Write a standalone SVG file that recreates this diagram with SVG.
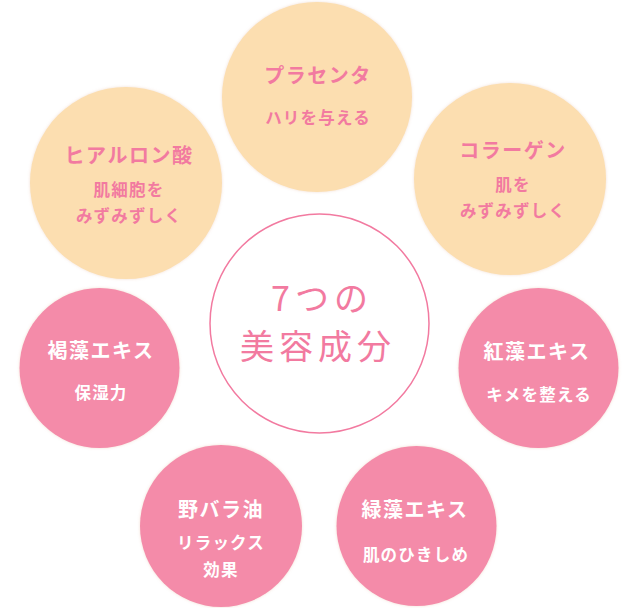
<svg xmlns="http://www.w3.org/2000/svg" width="640" height="608" viewBox="0 0 640 608">
<defs>
<filter id="soft" x="-10%" y="-10%" width="120%" height="120%">
<feGaussianBlur in="SourceAlpha" stdDeviation="1.5"/>
<feOffset dx="0" dy="0" result="b"/>
<feFlood flood-color="#d9a080" flood-opacity="0.35"/>
<feComposite in2="b" operator="in"/>
<feMerge><feMergeNode/><feMergeNode in="SourceGraphic"/></feMerge>
</filter>
</defs>
<style>
.peach{fill:#fcdeb0;filter:url(#soft)}
.pink{fill:#f48ba9;filter:url(#soft)}
text{font-family:"Noto Sans CJK JP","Noto Sans",sans-serif;text-anchor:middle}
.pt{fill:#f27aa0;font-size:20px;font-weight:bold;letter-spacing:1.5px}
.ps{fill:#f27aa0;font-size:16.5px;font-weight:bold;letter-spacing:1.2px}
.wt{fill:#ffffff;font-size:20px;font-weight:bold;letter-spacing:1.5px}
.ws{fill:#ffffff;font-size:16.5px;font-weight:bold;letter-spacing:1.2px}
.ct{fill:#f27aa0;font-size:34px;font-weight:normal;letter-spacing:5px}
</style>
<g id="connectors"/>
<g id="placenta">
<circle class="peach" cx="317" cy="97" r="95"/>
<text class="pt" x="318" y="83">プラセンタ</text>
<text class="ps" x="318" y="124">ハリを与える</text>
</g>
<g id="hyaluronic">
<circle class="peach" cx="126" cy="183" r="96"/>
<text class="pt" x="129" y="163">ヒアルロン酸</text>
<text class="ps" x="129" y="196">肌細胞を</text>
<text class="ps" x="129" y="222">みずみずしく</text>
</g>
<g id="collagen">
<circle class="peach" cx="510" cy="179" r="96"/>
<text class="pt" x="513" y="158">コラーゲン</text>
<text class="ps" x="513" y="191">肌を</text>
<text class="ps" x="513" y="217">みずみずしく</text>
</g>
<g id="center">
<circle cx="319.5" cy="323.5" r="109.5" fill="#ffffff" stroke="#f27aa0" stroke-width="1.5"/>
<text class="ct" x="322" y="311">7つの</text>
<text class="ct" x="318" y="359">美容成分</text>
</g>
<g id="kattou">
<circle class="pink" cx="99.5" cy="368" r="80"/>
<text class="wt" x="101" y="358">褐藻エキス</text>
<text class="ws" x="101" y="399">保湿力</text>
</g>
<g id="koutou">
<circle class="pink" cx="538.5" cy="368" r="80"/>
<text class="wt" x="537" y="359">紅藻エキス</text>
<text class="ws" x="539" y="401">キメを整える</text>
</g>
<g id="nobara">
<circle class="pink" cx="221" cy="526" r="81"/>
<text class="wt" x="221" y="517">野バラ油</text>
<text class="ws" x="221" y="549">リラックス</text>
<text class="ws" x="221" y="576">効果</text>
</g>
<g id="ryokusou">
<circle class="pink" cx="416.5" cy="526" r="80"/>
<text class="wt" x="415" y="517">緑藻エキス</text>
<text class="ws" x="416" y="561">肌のひきしめ</text>
</g>
</svg>
